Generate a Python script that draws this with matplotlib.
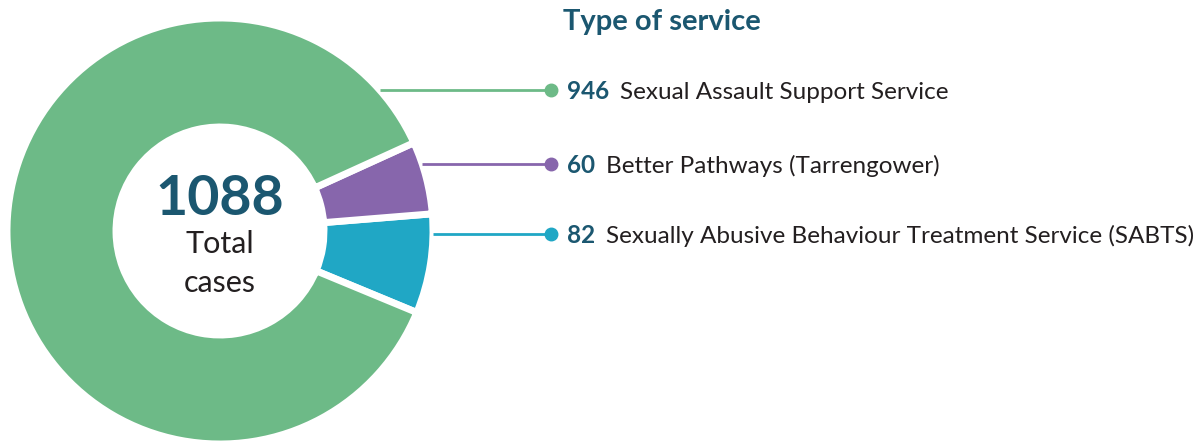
import numpy as np
import matplotlib.pyplot as plt

# data
services = ["Sexual Assault Support Service",
            "Better Pathways (Tarrengower)",
            "Sexually Abusive Behaviour Treatment Service (SABTS)"]
cases = [946, 60, 82]
colors = ["#6dba87", "#8766ac", "#20a7c5"]
title = "Type of service"

W, H = 1197, 445
fig = plt.figure(figsize=(W / 100, H / 100), dpi=100)
ax = fig.add_axes([0, 0, 1, 1])

# donut in pixel coordinates (y up)
cx, cy, R = 220, H - 231, 213
# pie runs counter-clockwise: teal, purple, then green
order = [2, 1, 0]
ax.pie([cases[i] for i in order], colors=[colors[i] for i in order],
       startangle=-22.5, counterclock=True, center=(cx, cy), radius=R,
       frame=True,
       wedgeprops=dict(width=R - 104, edgecolor="white", linewidth=5))
ax.set_xlim(0, W)
ax.set_ylim(0, H)
ax.set_aspect("equal")
ax.axis("off")

dark = "#1b5770"
body = "#231f20"
font = "Lato"

# centre text
ax.text(cx, H - 215, f"{sum(cases)}", ha="center", va="baseline",
        fontsize=40, fontweight="bold", color=dark, family=font)
ax.text(cx, H - 253, "Total", ha="center", va="baseline",
        fontsize=22, color=body, family=font)
ax.text(cx, H - 292, "cases", ha="center", va="baseline",
        fontsize=22, color=body, family=font)

# title
ax.text(563, H - 30, title, ha="left", va="baseline", fontsize=21,
        fontweight="bold", color=dark, family=font)

# legend rows with leader lines
row_y = [90, 164, 234]
dot_x = 551
fig.canvas.draw()
renderer = fig.canvas.get_renderer()
for i in range(len(cases)):
    y = H - row_y[i]
    dy = y - cy
    x0 = cx + np.sqrt(R ** 2 - dy ** 2)
    ax.plot([x0, dot_x], [y, y], color=colors[i], lw=2, solid_capstyle="butt")
    ax.plot(dot_x, y, "o", color=colors[i], ms=9)
    num = ax.text(567, y - 9, str(cases[i]), ha="left", va="baseline",
                  fontsize=17.5, fontweight="bold", color=dark, family=font)
    bb = num.get_window_extent(renderer)
    ax.text(bb.x1 + 11, y - 9, services[i], ha="left", va="baseline",
            fontsize=17.5, color=body, family=font)

fig.savefig("out.png", dpi=100)
